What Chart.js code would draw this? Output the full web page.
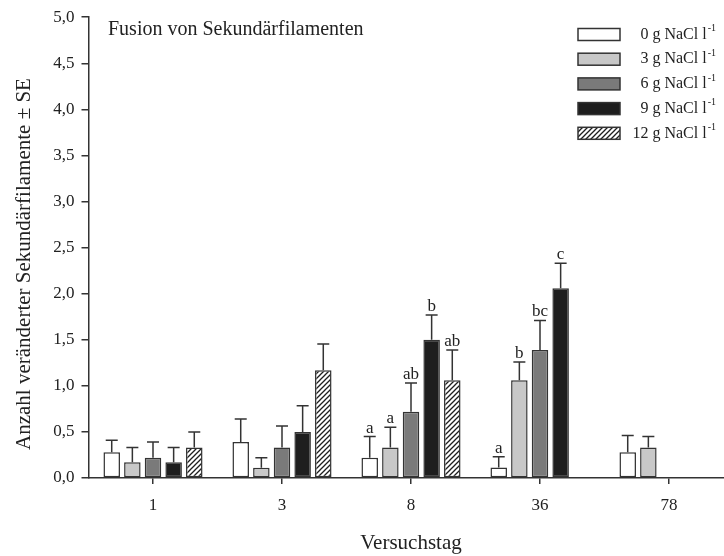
<!DOCTYPE html>
<html lang="de">
<head>
<meta charset="utf-8">
<title>Fusion von Sekundärfilamenten</title>
<script src="https://cdn.jsdelivr.net/npm/chart.js@4.4.1/dist/chart.umd.min.js"></script>
<style>
  html, body { margin: 0; padding: 0; background: #fff; overflow: hidden; }
  canvas { display: block; }
</style>
</head>
<body>
<canvas id="chart" width="740" height="556"></canvas>
<script>
(function () {
  'use strict';

  // Versuchstage (x-Achse)
  const DAYS = ['1', '3', '8', '36', '78'];
  const Y_TICKS = [0, 0.5, 1, 1.5, 2, 2.5, 3, 3.5, 4, 4.5, 5];

  const SERIES_LABELS = ['0 g NaCl l', '3 g NaCl l', '6 g NaCl l', '9 g NaCl l', '12 g NaCl l'];

  // Mittelwerte, null = kein Balken
  const MEAN_0G = [0.28, 0.39, 0.22, 0.115, 0.28];
  const MEAN_3G = [0.17, 0.11, 0.33, 1.06, 0.33];
  const MEAN_6G = [0.22, 0.33, 0.72, 1.39, null];
  const MEAN_9G = [0.17, 0.50, 1.50, 2.06, null];
  const MEAN_12G = [0.33, 1.17, 1.06, null, null];

  // Standardfehler
  const SE_0G = [0.13, 0.25, 0.23, 0.115, 0.18];
  const SE_3G = [0.16, 0.11, 0.22, 0.20, 0.12];
  const SE_6G = [0.17, 0.235, 0.31, 0.32, null];
  const SE_9G = [0.16, 0.285, 0.27, 0.27, null];
  const SE_12G = [0.17, 0.285, 0.33, null, null];

  // Signifikanzbuchstaben
  const LETTERS_0G = [null, null, 'a', 'a', null];
  const LETTERS_3G = [null, null, 'a', 'b', null];
  const LETTERS_6G = [null, null, 'ab', 'bc', null];
  const LETTERS_9G = [null, null, 'b', 'c', null];
  const LETTERS_12G = [null, null, 'ab', null, null];

  const SERIF = "'Liberation Serif', 'Times New Roman', serif";
  const TEXT = '#222';
  const LINE = '#333';

  const canvas = document.getElementById('chart');
  const ctx = canvas.getContext('2d');

  function makeHatch() {
    const size = 5;
    const c = document.createElement('canvas');
    c.width = size;
    c.height = size;
    const g = c.getContext('2d');
    g.fillStyle = '#fff';
    g.fillRect(0, 0, size, size);
    g.strokeStyle = '#1e1e1e';
    g.lineWidth = 1.3;
    g.beginPath();
    g.moveTo(-1, size + 1);
    g.lineTo(size + 1, -1);
    g.moveTo(-1, 1);
    g.lineTo(1, -1);
    g.moveTo(size - 1, size + 1);
    g.lineTo(size + 1, size - 1);
    g.stroke();
    return ctx.createPattern(c, 'repeat');
  }

  const FILLS = ['#ffffff', '#c8c8c8', '#7a7a7a', '#1e1e1e', makeHatch()];
  const MEANS = [MEAN_0G, MEAN_3G, MEAN_6G, MEAN_9G, MEAN_12G];
  const SES = [SE_0G, SE_3G, SE_6G, SE_9G, SE_12G];
  const LETTERS = [LETTERS_0G, LETTERS_3G, LETTERS_6G, LETTERS_9G, LETTERS_12G];

  const fmt = (v) => v.toFixed(1).replace('.', ',');

  const errorBars = {
    id: 'errorBars',
    afterDatasetsDraw(chart) {
      const g = chart.ctx;
      const y = chart.scales.y;
      g.save();
      g.strokeStyle = LINE;
      g.lineWidth = 1.5;
      g.fillStyle = TEXT;
      g.font = '17px ' + SERIF;
      g.textAlign = 'center';
      g.textBaseline = 'alphabetic';
      chart.data.datasets.forEach((ds, d) => {
        const meta = chart.getDatasetMeta(d);
        meta.data.forEach((bar, i) => {
          const mean = ds.data[i];
          const se = SES[d][i];
          if (mean === null || se === null) return;
          const top = y.getPixelForValue(mean + se);
          g.beginPath();
          g.moveTo(bar.x, bar.y);
          g.lineTo(bar.x, top);
          g.moveTo(bar.x - 6, top);
          g.lineTo(bar.x + 6, top);
          g.stroke();
          const letter = LETTERS[d][i];
          if (letter) g.fillText(letter, bar.x, top - 4);
        });
      });
      g.restore();
    },
  };

  const decorations = {
    id: 'decorations',
    afterDraw(chart) {
      const g = chart.ctx;
      g.save();
      g.fillStyle = TEXT;

      // Titel im Diagramm
      g.font = '20px ' + SERIF;
      g.textAlign = 'left';
      g.textBaseline = 'middle';
      g.fillText('Fusion von Sekundärfilamenten', 108, 30);

      // y-Achsentitel
      g.save();
      g.font = '21px ' + SERIF;
      g.translate(24, 264);
      g.rotate(-Math.PI / 2);
      g.textAlign = 'center';
      g.fillText('Anzahl veränderter Sekundärfilamente \u00b1 SE', 0, 0);
      g.restore();

      // Legende
      const right = 716;
      chart.data.datasets.forEach((ds, d) => {
        const cy = 34.5 + d * 24.7;
        g.fillStyle = ds.backgroundColor;
        g.fillRect(578, cy - 6, 42, 12);
        g.strokeStyle = LINE;
        g.lineWidth = 1.5;
        g.strokeRect(578, cy - 6, 42, 12);

        g.font = '16px ' + SERIF;
        const main = ds.label;
        const mainW = g.measureText(main).width;
        g.font = '10px ' + SERIF;
        const supW = g.measureText('-1').width;
        const x0 = right - mainW - supW - 1;
        g.fillStyle = TEXT;
        g.textAlign = 'left';
        g.textBaseline = 'middle';
        g.font = '16px ' + SERIF;
        g.fillText(main, x0, cy);
        g.font = '10px ' + SERIF;
        g.fillText('-1', x0 + mainW + 1, cy - 6);
      });
      g.restore();
    },
  };

  new Chart(canvas, {
    type: 'bar',
    data: {
      labels: DAYS,
      datasets: SERIES_LABELS.map((label, d) => ({
        label,
        data: MEANS[d],
        backgroundColor: FILLS[d],
        borderColor: LINE,
        borderWidth: 1.5,
        borderSkipped: false,
        categoryPercentage: 0.8,
        barPercentage: 0.8,
      })),
    },
    options: {
      responsive: false,
      animation: false,
      layout: { padding: { top: 15, right: 6.5, bottom: 0, left: 0 } },
      plugins: {
        legend: { display: false },
        tooltip: { enabled: false },
        title: { display: false },
      },
      scales: {
        x: {
          offset: true,
          grid: { offset: false, drawOnChartArea: false, drawTicks: true, tickLength: 6, color: LINE, lineWidth: 1.5 },
          border: { display: true, color: LINE, width: 1.5 },
          ticks: { color: TEXT, font: { family: SERIF, size: 17 }, padding: 11, maxRotation: 0 },
          title: {
            display: true,
            text: 'Versuchstag',
            color: TEXT,
            font: { family: SERIF, size: 21 },
            padding: { top: 0, bottom: 0 },
          },
          afterFit(scale) { scale.height = 78; },
        },
        y: {
          min: 0,
          max: 5,
          afterBuildTicks(scale) { scale.ticks = Y_TICKS.map((value) => ({ value })); },
          grid: { drawOnChartArea: false, drawTicks: true, tickLength: 7, color: LINE, lineWidth: 1.5 },
          border: { display: true, color: LINE, width: 1.5 },
          ticks: { color: TEXT, font: { family: SERIF, size: 17 }, padding: 7, callback: (v) => fmt(v) },
          afterFit(scale) { scale.width = 88.5; },
        },
      },
    },
    plugins: [errorBars, decorations],
  });
})();
</script>
</body>
</html>
